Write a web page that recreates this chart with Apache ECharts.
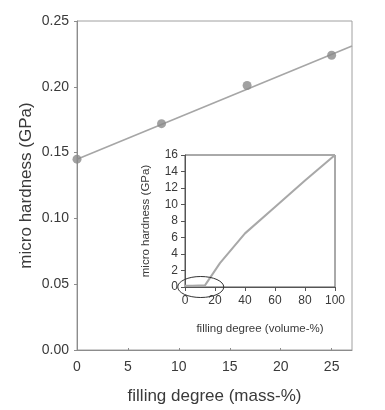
<!DOCTYPE html>
<html><head><meta charset="utf-8">
<script src="https://cdn.jsdelivr.net/npm/echarts@6/dist/echarts.min.js"></script>
<style>html,body{margin:0;padding:0;background:#fff}#c{width:385px;height:410px}</style>
</head><body><div id="c"></div>
<script>
// main chart data
const massFill = [0, 8.3, 16.7, 25];
const massHardness = [0.145, 0.172, 0.201, 0.224];
const fitX = [0, 27];
const fitY = [0.145, 0.231];
const mainYTicks = [0, 0.05, 0.10, 0.15, 0.20, 0.25];
const mainXTicks = [0, 5, 10, 15, 20, 25];
// inset data
const volFill = [0, 5, 13.3, 23.3, 40, 60, 80, 100];
const volHardness = [0.15, 0.15, 0.2, 2.9, 6.5, 9.7, 12.9, 16];
const insetXTicks = [0, 20, 40, 60, 80, 100];
const insetYTicks = [0, 2, 4, 6, 8, 10, 12, 14, 16];

const FONT = 'Liberation Sans, Arial, sans-serif';
const chart = echarts.init(document.getElementById('c'), null, {renderer: 'canvas'});
const axisGray = '#8c8c8c';
const txt = '#3a3a3a';

const option = {
  animation: false,
  backgroundColor: '#fff',
  grid: [
    {left: 77, top: 21, width: 275, height: 329, show: true, borderColor: '#a0a0a0', borderWidth: 1, containLabel: false},
    {left: 185, top: 155, width: 150, height: 132, show: true, borderColor: '#555', borderWidth: 1, containLabel: false}
  ],
  xAxis: [
    {gridIndex: 0, type: 'value', min: 0, max: 27, interval: 5,
     name: 'filling degree (mass-%)', nameLocation: 'middle', nameGap: 38, nameMoveOverlap: false,
     nameTextStyle: {fontFamily: FONT, fontSize: 17, color: txt},
     axisLine: {lineStyle: {color: axisGray}}, splitLine: {show: false},
     axisTick: {inside: true, length: 2, lineStyle: {color: axisGray}},
     axisLabel: {fontFamily: FONT, fontSize: 14, color: txt, margin: 10, showMaxLabel: false,
       formatter: v => mainXTicks.includes(v) ? String(v) : ''}},
    {gridIndex: 1, type: 'value', min: 0, max: 100, interval: 20,
     name: 'filling degree (volume-%)', nameLocation: 'middle', nameGap: 36, nameMoveOverlap: false,
     nameTextStyle: {fontFamily: FONT, fontSize: 11.5, color: txt},
     axisLine: {lineStyle: {color: '#555'}}, splitLine: {show: false},
     axisTick: {length: 4, lineStyle: {color: '#555'}},
     axisLabel: {fontFamily: FONT, fontSize: 12, color: txt, margin: 8,
       formatter: v => insetXTicks.includes(v) ? String(v) : ''}}
  ],
  yAxis: [
    {gridIndex: 0, type: 'value', min: 0, max: 0.25, interval: 0.05,
     name: 'micro hardness (GPa)', nameLocation: 'middle', nameGap: 42, nameMoveOverlap: false,
     nameTextStyle: {fontFamily: FONT, fontSize: 17, color: txt},
     axisLine: {show: true, lineStyle: {color: axisGray}}, splitLine: {show: false},
     axisTick: {show: true, length: 3, lineStyle: {color: axisGray}},
     axisLabel: {fontFamily: FONT, fontSize: 14, color: txt, margin: 8,
       formatter: v => v.toFixed(2)}},
    {gridIndex: 1, type: 'value', min: 0, max: 16, interval: 2,
     name: 'micro hardness (GPa)', nameLocation: 'middle', nameGap: 33, nameMoveOverlap: false,
     nameTextStyle: {fontFamily: FONT, fontSize: 11.5, color: txt},
     axisLine: {show: true, lineStyle: {color: '#555'}}, splitLine: {show: false},
     axisTick: {show: true, length: 4, lineStyle: {color: '#555'}},
     axisLabel: {fontFamily: FONT, fontSize: 12, color: txt, margin: 7,
       formatter: v => insetYTicks.includes(v) ? String(v) : ''}}
  ],
  series: [
    {type: 'line', xAxisIndex: 0, yAxisIndex: 0, symbol: 'none',
     lineStyle: {color: '#a6a6a6', width: 1.6},
     data: fitX.map((x, i) => [x, fitY[i]]), z: 2},
    {type: 'scatter', xAxisIndex: 0, yAxisIndex: 0, symbolSize: 9,
     itemStyle: {color: '#8a8a8a'},
     data: massFill.map((x, i) => [x, massHardness[i]]), z: 3},
    {type: 'line', xAxisIndex: 1, yAxisIndex: 1, symbol: 'none',
     lineStyle: {color: '#a8a8a8', width: 2},
     data: volFill.map((x, i) => [x, volHardness[i]]), z: 3}
  ]
};
chart.setOption(option);

// ellipse annotation around the low-filling region of the inset
const c = chart.convertToPixel({gridIndex: 1}, [10.5, 0]);
chart.setOption({
  graphic: [{type: 'ellipse', shape: {cx: c[0], cy: c[1], rx: 23, ry: 10.5},
    style: {fill: 'none', stroke: '#333', lineWidth: 1}, z: 10}]
});
</script></body></html>
